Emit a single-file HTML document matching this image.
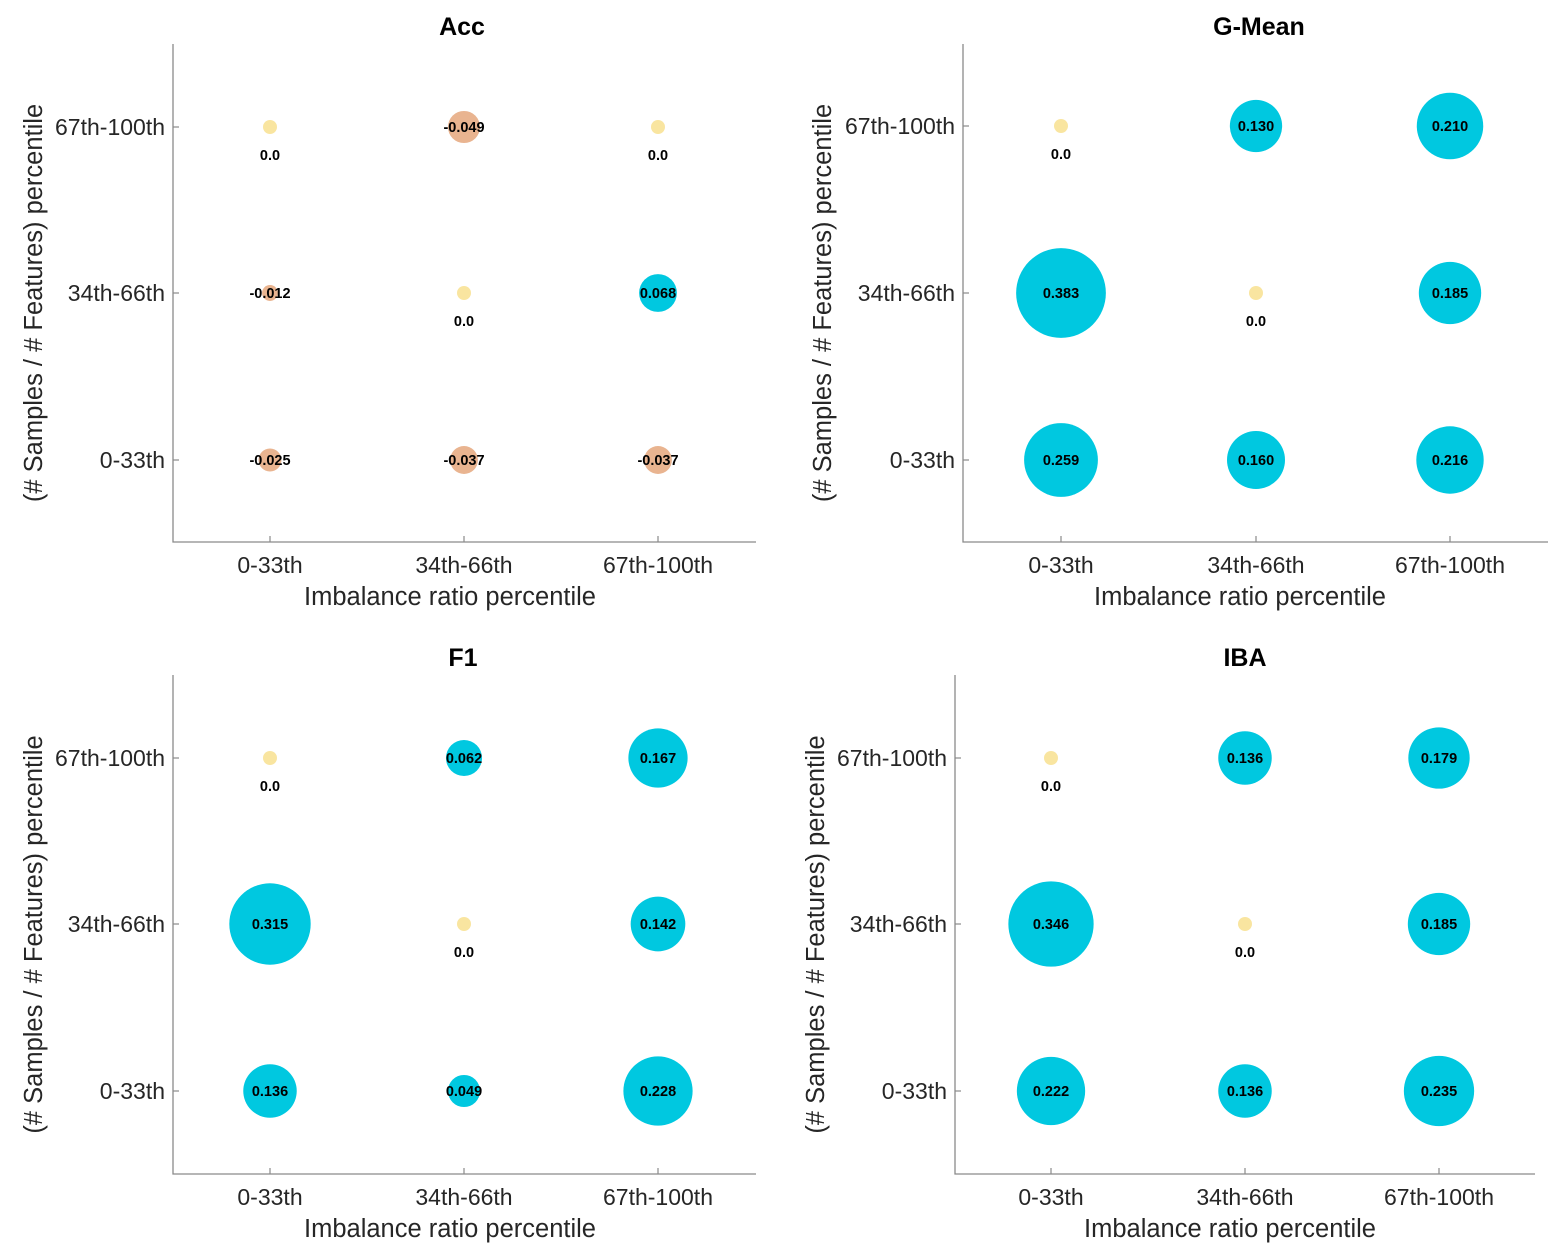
<!DOCTYPE html>
<html><head><meta charset="utf-8">
<style>
body{margin:0;background:#fff;}
svg{display:block;font-family:"Liberation Sans",Arial,sans-serif;}
</style></head>
<body>
<svg id="chart" width="1556" height="1252" viewBox="0 0 1556 1252"></svg>
<script>
const xCategories = ["0-33th","34th-66th","67th-100th"];
const yCategories = ["0-33th","34th-66th","67th-100th"];
const panelTitles = ["Acc","G-Mean","F1","IBA"];
// values[row][col], row 0 = "0-33th" (bottom), row 2 = "67th-100th" (top)
const accValues   = [[-0.025,-0.037,-0.037],[-0.012,0.0,0.068],[0.0,-0.049,0.0]];
const gmeanValues = [[0.259,0.160,0.216],[0.383,0.0,0.185],[0.0,0.130,0.210]];
const f1Values    = [[0.136,0.049,0.228],[0.315,0.0,0.142],[0.0,0.062,0.167]];
const ibaValues   = [[0.222,0.136,0.235],[0.346,0.0,0.185],[0.0,0.136,0.179]];
const accLabels   = [["-0.025","-0.037","-0.037"],["-0.012","0.0","0.068"],["0.0","-0.049","0.0"]];
const gmeanLabels = [["0.259","0.160","0.216"],["0.383","0.0","0.185"],["0.0","0.130","0.210"]];
const f1Labels    = [["0.136","0.049","0.228"],["0.315","0.0","0.142"],["0.0","0.062","0.167"]];
const ibaLabels   = [["0.222","0.136","0.235"],["0.346","0.0","0.185"],["0.0","0.136","0.179"]];

const NS="http://www.w3.org/2000/svg";
const svg=document.getElementById('chart');
function mk(tag,attrs,parent){const e=document.createElementNS(NS,tag);for(const k in attrs)e.setAttribute(k,attrs[k]);(parent||svg).appendChild(e);return e;}

const layouts=[
 {left:173,right:756,top:44,bottom:542,xc:[270,464,658],yc:[460,293,127],title:[462,26],ylab:33,xlab:[450,596],values:accValues,labels:accLabels},
 {left:963,right:1548,top:44,bottom:542,xc:[1061,1256,1450],yc:[460,293,126],title:[1259,26],ylab:822,xlab:[1240,596],values:gmeanValues,labels:gmeanLabels},
 {left:173,right:756,top:675,bottom:1174,xc:[270,464,658],yc:[1091,924,758],title:[463,657],ylab:33,xlab:[450,1228],values:f1Values,labels:f1Labels},
 {left:955,right:1535,top:675,bottom:1174,xc:[1051,1245,1439],yc:[1091,924,758],title:[1245,657],ylab:815,xlab:[1230,1228],values:ibaValues,labels:ibaLabels}
];
function rScale(v){return v===0?7:72.5*Math.sqrt(Math.abs(v));}
function color(v){return v===0?'#f9e5a0':(v<0?'#e9b490':'#00c8e0');}

layouts.forEach((L,pi)=>{
  const g=mk('g',{});
  
  
  const t=mk('text',{x:L.title[0],y:L.title[1]+9,'text-anchor':'middle','font-size':25,'font-weight':'bold',fill:'#000'},g);
  t.textContent=panelTitles[pi];
  
  
  const ax=mk('path',{d:`M${L.left},${L.top}V${L.bottom}H${L.right}`,stroke:'#8a8a8a','stroke-width':1.3,fill:'none'},g);
  
  
  xCategories.forEach((c,i)=>{
    mk('line',{x1:L.xc[i],x2:L.xc[i],y1:L.bottom,y2:L.bottom-6,stroke:'#8a8a8a','stroke-width':1.2},g);
    const tx=mk('text',{x:L.xc[i],y:L.bottom+31,'text-anchor':'middle','font-size':23,fill:'#262626'},g);
    tx.textContent=c;
    
    
  });
  yCategories.forEach((c,i)=>{
    mk('line',{x1:L.left,x2:L.left+6,y1:L.yc[i],y2:L.yc[i],stroke:'#8a8a8a','stroke-width':1.2},g);
    const ty=mk('text',{x:L.left-8,y:L.yc[i]+8,'text-anchor':'end','font-size':23,fill:'#262626'},g);
    ty.textContent=c;
    
    
  });
  const xt=mk('text',{x:L.xlab[0],y:L.xlab[1]+9,'text-anchor':'middle','font-size':25.5,fill:'#262626'},g);
  xt.textContent='Imbalance ratio percentile';
  
  
  const cy=(L.top+L.bottom)/2+10;
  const yt=mk('text',{x:L.ylab,y:cy,'text-anchor':'middle','font-size':25.5,fill:'#262626',transform:`rotate(-90 ${L.ylab} ${cy})`,dy:9},g);
  yt.textContent='(# Samples / # Features) percentile';
  
  
  for(let r=0;r<3;r++)for(let c=0;c<3;c++){
    const v=L.values[r][c];
    const cx=L.xc[c], cyy=L.yc[r];
    const circ=mk('circle',{cx:cx,cy:cyy,r:rScale(v),fill:color(v)},g);
    
    
    const ly=v===0?cyy+33:cyy+5;
    const lb=mk('text',{x:cx,y:ly,'text-anchor':'middle','font-size':14.5,'font-weight':'bold',fill:'#000'},g);
    lb.textContent=L.labels[r][c];
    
    
  }
});
</script>
</body></html>
